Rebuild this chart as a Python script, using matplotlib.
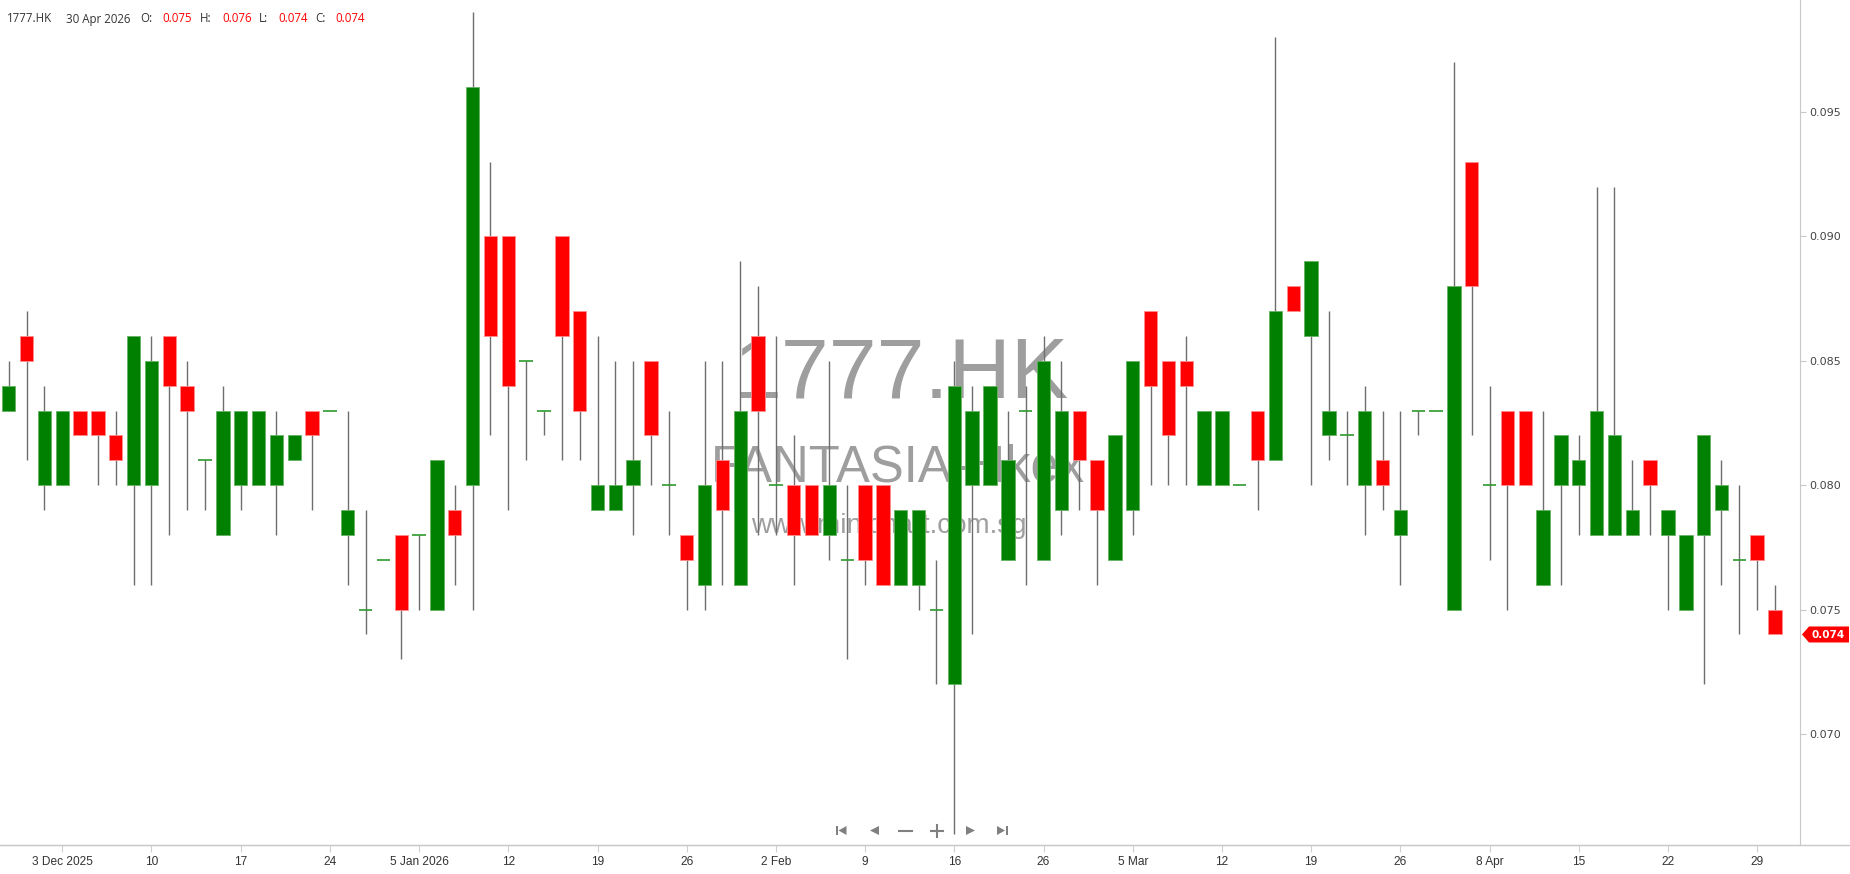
import numpy as np
import matplotlib.pyplot as plt
from matplotlib import font_manager
from matplotlib.patches import Polygon
from matplotlib.ticker import FormatStrFormatter

# --- data (daily bars, 28 Nov 2025 -> 30 Apr 2026) ---
symbol = '1777.HK'
company = 'FANTASIA-Hkex'
site = 'www.minichart.com.sg'
last_date = '30 Apr 2026'

opens = [0.083, 0.086, 0.080, 0.080, 0.083, 0.083, 0.082, 0.080, 0.080, 0.086,
         0.084, 0.081, 0.078, 0.080, 0.080, 0.080, 0.081, 0.083, 0.083, 0.078,
         0.075, 0.077, 0.078, 0.078, 0.075, 0.079, 0.080, 0.090, 0.090, 0.085,
         0.083, 0.090, 0.087, 0.079, 0.079, 0.080, 0.085, 0.080, 0.078, 0.076,
         0.081, 0.076, 0.086, 0.080, 0.080, 0.080, 0.078, 0.077, 0.080, 0.080,
         0.076, 0.076, 0.075, 0.072, 0.080, 0.080, 0.077, 0.083, 0.077, 0.079,
         0.083, 0.081, 0.077, 0.079, 0.087, 0.085, 0.085, 0.080, 0.080, 0.080,
         0.083, 0.081, 0.088, 0.086, 0.082, 0.082, 0.080, 0.081, 0.078, 0.083,
         0.083, 0.075, 0.093, 0.080, 0.083, 0.083, 0.076, 0.080, 0.080, 0.078,
         0.078, 0.078, 0.081, 0.078, 0.075, 0.078, 0.079, 0.077, 0.078, 0.075]
highs = [0.085, 0.087, 0.084, 0.083, 0.083, 0.083, 0.083, 0.086, 0.086, 0.086,
         0.085, 0.081, 0.084, 0.083, 0.083, 0.083, 0.082, 0.083, 0.083, 0.083,
         0.079, 0.077, 0.078, 0.078, 0.081, 0.080, 0.099, 0.093, 0.090, 0.085,
         0.083, 0.090, 0.087, 0.086, 0.085, 0.085, 0.085, 0.083, 0.078, 0.085,
         0.085, 0.089, 0.088, 0.086, 0.082, 0.080, 0.085, 0.080, 0.080, 0.080,
         0.079, 0.079, 0.077, 0.085, 0.084, 0.084, 0.083, 0.084, 0.086, 0.085,
         0.083, 0.081, 0.082, 0.085, 0.087, 0.085, 0.086, 0.083, 0.083, 0.080,
         0.083, 0.098, 0.088, 0.089, 0.087, 0.083, 0.084, 0.083, 0.083, 0.083,
         0.083, 0.097, 0.093, 0.084, 0.083, 0.083, 0.083, 0.082, 0.082, 0.092,
         0.092, 0.081, 0.081, 0.079, 0.078, 0.082, 0.081, 0.080, 0.078, 0.076]
lows = [0.083, 0.081, 0.079, 0.080, 0.082, 0.080, 0.080, 0.076, 0.076, 0.078,
        0.079, 0.079, 0.078, 0.079, 0.080, 0.078, 0.081, 0.079, 0.083, 0.076,
        0.074, 0.077, 0.073, 0.075, 0.075, 0.076, 0.075, 0.082, 0.079, 0.081,
        0.082, 0.081, 0.081, 0.079, 0.079, 0.078, 0.080, 0.078, 0.075, 0.075,
        0.076, 0.076, 0.078, 0.078, 0.076, 0.078, 0.077, 0.073, 0.076, 0.076,
        0.076, 0.075, 0.072, 0.066, 0.074, 0.080, 0.077, 0.076, 0.077, 0.078,
        0.079, 0.076, 0.077, 0.078, 0.080, 0.080, 0.080, 0.080, 0.080, 0.080,
        0.079, 0.081, 0.087, 0.080, 0.081, 0.080, 0.078, 0.079, 0.076, 0.082,
        0.083, 0.075, 0.082, 0.077, 0.075, 0.080, 0.076, 0.076, 0.078, 0.078,
        0.078, 0.078, 0.078, 0.075, 0.075, 0.072, 0.076, 0.074, 0.075, 0.074]
closes = [0.084, 0.085, 0.083, 0.083, 0.082, 0.082, 0.081, 0.086, 0.085, 0.084,
          0.083, 0.081, 0.083, 0.083, 0.083, 0.082, 0.082, 0.082, 0.083, 0.079,
          0.075, 0.077, 0.075, 0.078, 0.081, 0.078, 0.096, 0.086, 0.084, 0.085,
          0.083, 0.086, 0.083, 0.080, 0.080, 0.081, 0.082, 0.080, 0.077, 0.080,
          0.079, 0.083, 0.083, 0.080, 0.078, 0.078, 0.080, 0.077, 0.077, 0.076,
          0.079, 0.079, 0.075, 0.084, 0.083, 0.084, 0.081, 0.083, 0.085, 0.083,
          0.081, 0.079, 0.082, 0.085, 0.084, 0.082, 0.084, 0.083, 0.083, 0.080,
          0.081, 0.087, 0.087, 0.089, 0.083, 0.082, 0.083, 0.080, 0.079, 0.083,
          0.083, 0.088, 0.088, 0.080, 0.080, 0.080, 0.079, 0.082, 0.081, 0.083,
          0.082, 0.079, 0.080, 0.079, 0.078, 0.082, 0.080, 0.077, 0.077, 0.074]

date_labels = ['3 Dec 2025', '10', '17', '24', '5 Jan 2026', '12', '19', '26',
               '2 Feb', '9', '16', '26', '5 Mar', '12', '19', '26',
               '8 Apr', '15', '22', '29']
price_ticks = [0.070, 0.075, 0.080, 0.085, 0.090, 0.095]

W, H = 1850, 874
fig = plt.figure(figsize=(W / 100, H / 100), dpi=100)
ax = fig.add_axes([0, 29 / H, 1800 / W, 845 / H])

o, hi, lo, c = (np.array(v) for v in (opens, highs, lows, closes))
x = np.arange(len(o))
up = c > o
down = c < o
flat = c == o
bw = 0.75

# wicks first, bodies on top
ax.vlines(x, lo, hi, color='#6e6e6e', lw=1.0, zorder=2)
ax.bar(x[up], (c - o)[up], bottom=o[up], width=bw, color='#008000',
       edgecolor='#66b266', lw=0.6, zorder=3)
ax.bar(x[down], (o - c)[down], bottom=c[down], width=bw, color='#ff0000',
       edgecolor='#ff8c8c', lw=0.6, zorder=3)
ax.hlines(o[flat], x[flat] - bw / 2, x[flat] + bw / 2, color='#2e9a2e',
          lw=1.2, zorder=3)

ax.set_xlim(-0.49, 100.4)
ax.set_ylim(0.06554, 0.0995)

# fonts
names = {f.name for f in font_manager.fontManager.ttflist}
if 'Liberation Sans Narrow' in names:
    date_font, date_size = 'Liberation Sans Narrow', 10.2
else:
    date_font, date_size = 'Liberation Sans', 8.6

ax.set_xticks(range(3, len(o), 5))
ax.set_xticklabels(date_labels, fontfamily=date_font, fontsize=date_size,
                   color='#333333')
ax.tick_params(axis='x', length=5, color='#d0d0d0', pad=3)

ax.yaxis.tick_right()
ax.set_yticks(price_ticks)
ax.yaxis.set_major_formatter(FormatStrFormatter('%.3f'))
ax.tick_params(axis='y', length=4, color='#c8c8c8', pad=3, labelsize=8,
               labelcolor='#444444')

for side in ('top', 'left'):
    ax.spines[side].set_visible(False)
for side in ('right', 'bottom'):
    ax.spines[side].set_color('#c8c8c8')

# watermark behind the candles
wm = dict(transform=ax.transAxes, ha='center', va='baseline',
          color='#9e9e9e', family='Liberation Sans', zorder=1)
ax.text(0.5006, 0.530, symbol, fontsize=62, **wm)
ax.text(0.499, 0.4296, company, fontsize=36.5, **wm)
ax.text(0.494, 0.369, site, fontsize=20, **wm)

# overlay in pixel coordinates for header, price tag and nav buttons
ov = fig.add_axes([0, 0, 1, 1], zorder=5)
ov.set_xlim(0, W)
ov.set_ylim(H, 0)
ov.axis('off')
ov.set_facecolor('none')

ov.plot([0, W], [845, 845], color='#c8c8c8', lw=1)

hdr = [(symbol, 7, '#333333'), (last_date, 66, '#333333'),
       ('O:', 140, '#333333'), ('%.3f' % opens[-1], 162, '#ff0000'),
       ('H:', 200, '#333333'), ('%.3f' % highs[-1], 222, '#ff0000'),
       ('L:', 259, '#333333'), ('%.3f' % lows[-1], 278, '#ff0000'),
       ('C:', 315, '#333333'), ('%.3f' % closes[-1], 335, '#ff0000')]
for txt, px, col in hdr:
    ov.text(px, 22.5, txt, fontsize=8.3, family='Open Sans', color=col,
            va='baseline', ha='left')

# last price tag
yl = 112 + (0.095 - closes[-1]) * 24880
ov.add_patch(Polygon([(1802, yl), (1809, yl - 8), (1849, yl - 8),
                      (1849, yl + 8), (1809, yl + 8)], closed=True,
                     color='#ff0000', lw=0))
ov.text(1812, yl + 0.5, '%.3f' % closes[-1], color='white', fontsize=7.5,
        fontweight='bold', va='center', ha='left')

# navigation buttons
gc = '#808080'
yc = 830.5
ov.add_patch(Polygon([(835.5, yc - 4.5), (837.5, yc - 4.5), (837.5, yc + 4.5),
                      (835.5, yc + 4.5)], color=gc, lw=0))
ov.add_patch(Polygon([(838.5, yc), (846.5, yc - 4.5), (846.5, yc + 4.5)],
                     color=gc, lw=0))
ov.add_patch(Polygon([(870, yc), (879, yc - 4.5), (879, yc + 4.5)],
                     color=gc, lw=0))
ov.plot([899, 912], [yc, yc], color=gc, lw=1.5)
ov.plot([931, 943], [yc, yc], color=gc, lw=1.5)
ov.plot([937, 937], [yc - 6, yc + 6], color=gc, lw=1.5)
ov.add_patch(Polygon([(975, yc), (966, yc - 4.5), (966, yc + 4.5)],
                     color=gc, lw=0))
ov.add_patch(Polygon([(1005, yc), (997, yc - 4.5), (997, yc + 4.5)],
                     color=gc, lw=0))
ov.add_patch(Polygon([(1005.5, yc - 4.5), (1007.5, yc - 4.5),
                      (1007.5, yc + 4.5), (1005.5, yc + 4.5)], color=gc, lw=0))

fig.savefig('out.png', dpi=100)
